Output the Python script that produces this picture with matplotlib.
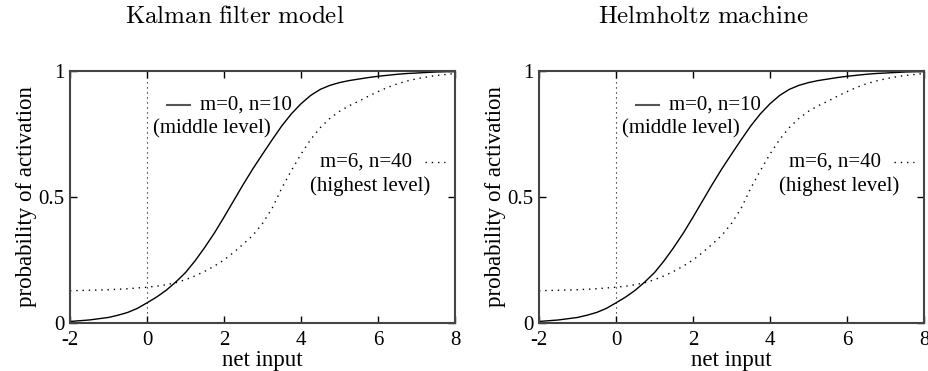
import numpy as np
import matplotlib
matplotlib.use("Agg")
from matplotlib import pyplot as plt

# values
net_input = [-2, -1.75, -1.5, -1.25, -1, -0.75, -0.5, -0.25, 0, 0.25, 0.5, 0.75,
             1, 1.25, 1.5, 1.75, 2, 2.25, 2.5, 2.75, 3, 3.25, 3.5, 3.75,
             4, 4.25, 4.5, 4.75, 5, 5.25, 5.5, 5.75, 6, 6.25, 6.5, 6.75,
             7, 7.25, 7.5, 7.75, 8]

# m=0, n=10 (middle level)
kf_middle = [0.006, 0.009, 0.012, 0.017, 0.022, 0.031, 0.042, 0.058, 0.08, 0.103, 0.13, 0.163,
             0.20, 0.247, 0.30, 0.357, 0.42, 0.485, 0.55, 0.612, 0.67, 0.727, 0.782, 0.83,
             0.87, 0.903, 0.927, 0.943, 0.954, 0.962, 0.968, 0.974, 0.979, 0.983, 0.987, 0.99,
             0.992, 0.994, 0.996, 0.997, 0.998]
# m=6, n=40 (highest level)
kf_highest = [0.128, 0.129, 0.130, 0.131, 0.132, 0.134, 0.136, 0.139, 0.142, 0.146, 0.152, 0.16,
              0.172, 0.187, 0.205, 0.226, 0.25, 0.28, 0.313, 0.348, 0.395, 0.455, 0.535, 0.605,
              0.67, 0.728, 0.775, 0.812, 0.84, 0.862, 0.88, 0.9, 0.918, 0.935, 0.949, 0.96,
              0.969, 0.976, 0.982, 0.986, 0.99]

# Helmholtz machine panel looks the same
hm_middle = list(kf_middle)
hm_highest = list(kf_highest)

titles = ["Kalman filter model", "Helmholtz machine"]
xticks = [-2, 0, 2, 4, 6, 8]
xticklabels = ["-2", "0", "2", "4", "6", "8"]
yticks = [0, 0.5, 1]
yticklabels = ["0", "0.5", "1"]

plt.rcParams['font.family'] = ['Liberation Serif', 'DejaVu Serif']
plt.rcParams['mathtext.fontset'] = 'cm'

W, H = 929, 371
fig = plt.figure(figsize=(W / 100, H / 100), dpi=100)
dots = (0, (1, 3.5))

panels = [(kf_middle, kf_highest, 70, 235), (hm_middle, hm_highest, 539, 703)]
for i, (mid, high, left_px, title_px) in enumerate(panels):
    ax = fig.add_axes([left_px / W, (H - 323) / H, 385 / W, 252 / H])
    ax.plot(net_input, mid, color='black', lw=1.0)
    ax.plot(net_input, high, color='black', lw=1.0, linestyle=dots)
    ax.plot([0, 0], [0, 1], color='black', lw=0.8, linestyle=dots)

    ax.set_xlim(-2, 8)
    ax.set_ylim(0, 1)
    ax.set_xticks(xticks)
    ax.set_xticklabels(xticklabels)
    ax.set_yticks(yticks)
    ax.set_yticklabels(yticklabels)
    ax.tick_params(direction='in', length=5, width=1, top=True, right=True,
                   labelsize=15)
    ax.tick_params(axis='x', pad=6)
    ax.tick_params(axis='y', pad=4)
    for s in ax.spines.values():
        s.set_linewidth(1.5)
        s.set_color('#444444')
    ax.set_xlabel("net input", fontsize=16.5, labelpad=0)
    ax.set_ylabel("probability of activation", fontsize=16.5, labelpad=1)

    # key, written inside the plot like gnuplot does
    ax.plot([0.52, 1.12], [0.865, 0.865], color='#555555', lw=1.5)
    ax.text(1.38, 0.865, "m=0, n=10", fontsize=15, va='center', ha='left')
    ax.text(0.16, 0.772, "(middle level)", fontsize=15, va='center', ha='left')
    ax.plot([7.22, 7.74], [0.639, 0.639], color='black', lw=1.0, linestyle=dots)
    ax.text(4.49, 0.639, "m=6, n=40", fontsize=15, va='center', ha='left')
    ax.text(4.23, 0.544, "(highest level)", fontsize=15, va='center', ha='left')

    name = titles[i].replace(" ", r"\ ")
    fig.text(title_px / W, 1 - 17 / H, r"$\mathrm{" + name + "}$", fontsize=18,
             ha='center', va='center')

fig.savefig("out.png", dpi=100)
